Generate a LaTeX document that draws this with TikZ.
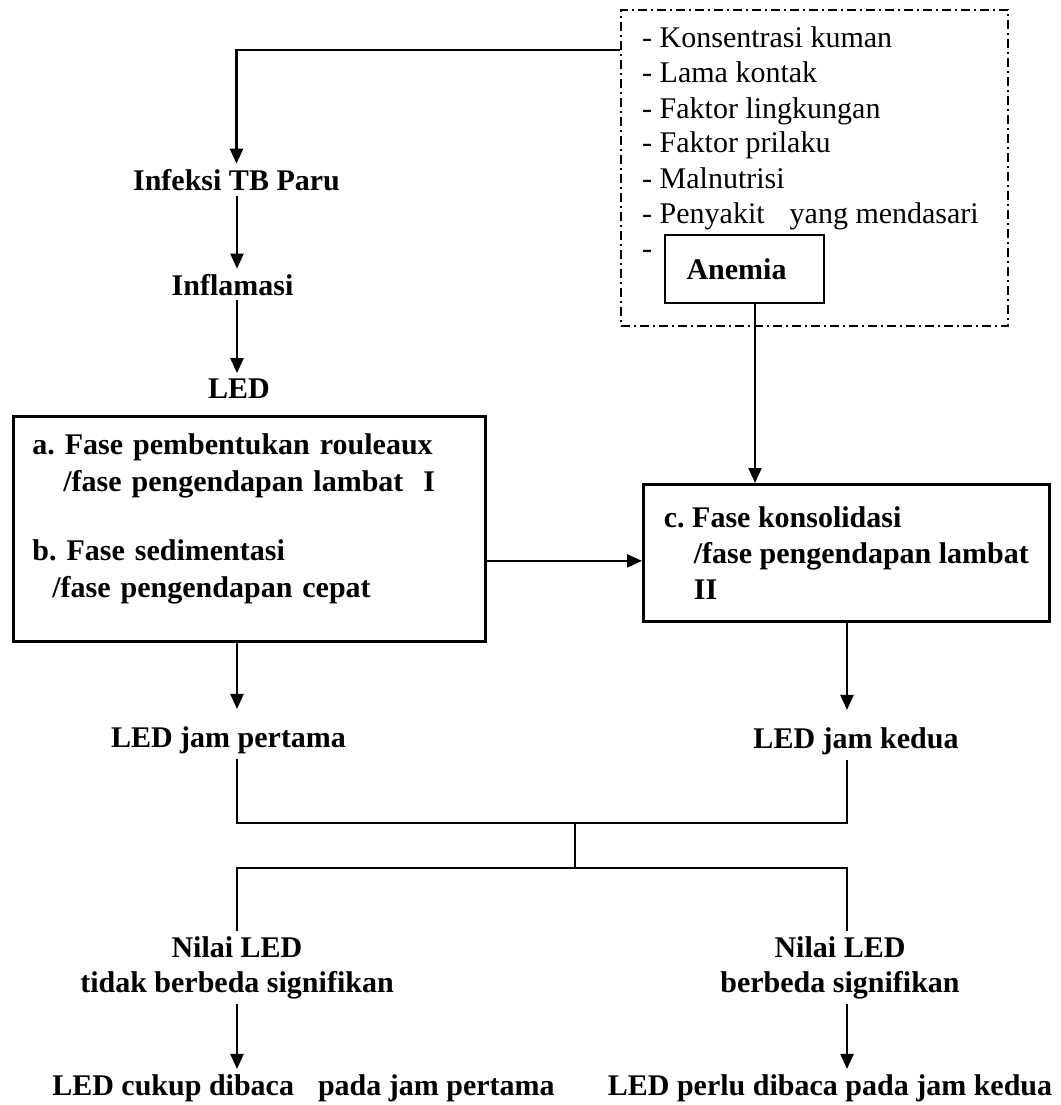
\documentclass[tikz,border=0pt]{standalone}
\usepackage{fontspec}
\setmainfont{Liberation Serif}
\usetikzlibrary{arrows.meta,positioning}
\frenchspacing

\tikzset{
  lbl/.style={font=\fontsize{30}{35}\selectfont\bfseries, inner sep=5pt, align=center},
  item/.style={font=\fontsize{30}{35}\selectfont, inner sep=0pt, anchor=base west},
  box/.style={draw, line width=2.8pt, font=\fontsize{30}{36}\selectfont\bfseries},
  conn/.style={line width=2.2pt},
  arr/.style={conn, -{Triangle[length=15pt,width=13pt]}},
}

\begin{document}
\begin{tikzpicture}[x=1pt,y=-1pt]
\useasboundingbox (0,0) rectangle (1060,1105);

% faktor risiko
\node[draw, line width=2pt, dash pattern=on 9pt off 4pt on 2pt off 4pt,
    minimum width=387pt, minimum height=316pt, anchor=north west, inner sep=0pt] (risk) at (620,9) {};
\foreach \t [count=\i] in {Konsentrasi kuman, Lama kontak, Faktor lingkungan, Faktor prilaku,
    Malnutrisi, Penyakit\hspace*{25pt}yang mendasari, {}}
    \node[item] (f\i) at (642,13+35*\i) {- \t};
\node[box, minimum width=159pt, minimum height=68pt] (anemia) at (744.5,269) {Anemia\hspace*{16pt}};

% kolom kiri
\coordinate (colL) at (237,0);
\coordinate (colR) at (847,0);
\node[lbl, anchor=base] (inf) at (236.5,190) {Infeksi TB Paru};
\node[lbl, anchor=base] (infl) at (232.5,295) {Inflamasi};
\node[lbl, anchor=base] (led) at (239,398) {LED};

\node[box, anchor=north west, text width=434pt, inner xsep=19pt, inner ysep=17pt, align=left,
    font=\fontsize{30}{37}\selectfont\bfseries] (fase) at (12,415)
    {a. Fase pembentukan rouleaux\\ \hspace*{31pt}/fase pengendapan lambat\hspace*{20pt}I\\[32pt]
     b. Fase sedimentasi\\ \hspace*{20pt}/fase pengendapan cepat\rule[-27pt]{0pt}{27pt}};
\node[box, anchor=north west, minimum width=406pt, minimum height=137pt, align=left] (konsol) at (642,483)
    {c. Fase konsolidasi\\ \hspace*{30pt}/fase pengendapan lambat\\ \hspace*{30pt}II};

\node[lbl, anchor=base] (jam1) at (228.5,747) {LED jam pertama};
\node[lbl, anchor=base] (jam2) at (856,748) {LED jam kedua};
\node[lbl, anchor=north] (beda0) at (237,931) {Nilai LED\\tidak berbeda signifikan};
\node[lbl, anchor=north] (beda1) at (840,931) {Nilai LED\\berbeda signifikan};
\node[lbl, anchor=base] (baca1) at (303.5,1095) {LED cukup dibaca\hspace*{24pt}pada jam pertama};
\node[lbl, anchor=base] (baca2) at (830,1095) {LED perlu dibaca pada jam kedua};

\coordinate (merge) at (575,823);
\coordinate (split) at (575,868);

% panah
\draw[arr] ([yshift=-41pt]risk.north west) -| (inf.north);
\draw[arr] (inf.south -| colL) -- (infl.north -| colL);
\draw[arr] (infl.south -| colL) -- (led.north -| colL);
\draw[arr] ([xshift=10.5pt]anemia.south) -- ([xshift=10.5pt]anemia.south |- konsol.north);
\draw[arr] ([yshift=-8pt]konsol.west -| fase.east) -- ([yshift=-8pt]konsol.west);
\draw[arr] (fase.south -| colL) -- ([yshift=12pt]jam1.north -| colL);
\draw[arr] (konsol.south -| colR) -- ([yshift=12pt]jam2.north -| colR);
\draw[conn] (jam1.south -| colL) |- (merge) -| (jam2.south -| colR);
\draw[conn] (merge) -- (split);
\draw[conn] (beda0.north -| colL) |- (split) -| (beda1.north -| colR);
\draw[arr] (beda0.south -| colL) -- (baca1.north -| colL);
\draw[arr] (beda1.south -| colR) -- (baca2.north -| colR);

\end{tikzpicture}
\end{document}
